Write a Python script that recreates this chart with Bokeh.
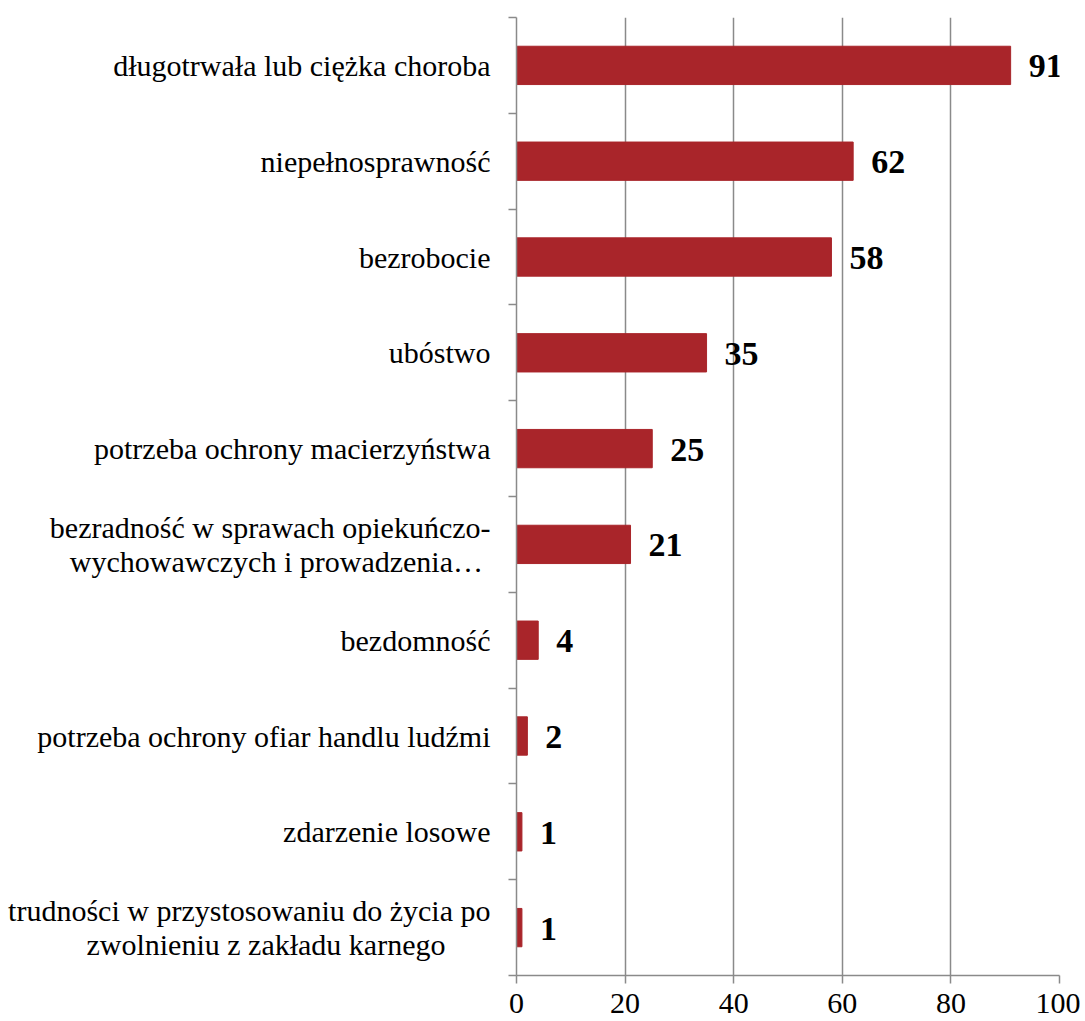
from bokeh.plotting import figure
from bokeh.models import ColumnDataSource, FixedTicker, LabelSet, Range1d
from bokeh.embed import file_html
from bokeh.resources import INLINE

categories = [
    "długotrwała lub ciężka choroba",
    "niepełnosprawność",
    "bezrobocie",
    "ubóstwo",
    "potrzeba ochrony macierzyństwa",
    "bezradność w sprawach opiekuńczo-\nwychowawczych i prowadzenia…",
    "bezdomność",
    "potrzeba ochrony ofiar handlu ludźmi",
    "zdarzenie losowe",
    "trudności w przystosowaniu do życia po\nzwolnieniu z zakładu karnego",
]
values = [91, 62, 58, 35, 25, 21, 4, 2, 1, 1]
x_ticks = [0, 20, 40, 60, 80, 100]

FONT = "Liberation Serif"
GRAY = "#8a8a8a"
BAR = "#A9252A"
NBSP = "\u00a0"

n = len(categories)
ypos = [n - i - 0.5 for i in range(n)]
src = ColumnDataSource(dict(y=ypos, v=values, lab=[str(v) for v in values]))

# tick positions / labels for the category axis (one tick per text line)
LINE_GAP = 0.178  # half line spacing in band units
pad_for_line2 = {5: 1, 9: 6}  # trailing padding so wrapped lines look centred
tick_pos, tick_lab = [], {}
for i, (yc, cat) in enumerate(zip(ypos, categories)):
    lines = cat.split("\n")
    if len(lines) == 1:
        tick_pos.append(yc)
        tick_lab[yc] = cat
    else:
        y1, y2 = yc + LINE_GAP, yc - LINE_GAP
        tick_pos += [y1, y2]
        tick_lab[y1] = lines[0]
        tick_lab[y2] = lines[1] + NBSP * pad_for_line2.get(i, 0)

p = figure(width=1080, height=1020, output_backend="svg", toolbar_location=None,
           x_range=Range1d(0, 100), y_range=Range1d(0, n),
           min_border_left=516, min_border_right=21, min_border_top=17, min_border_bottom=45)
p.outline_line_color = None

p.hbar(y="y", right="v", left=0, height=0.4, source=src, color=BAR)

labels = LabelSet(x="v", y="y", text="lab", source=src, x_offset=18, y_offset=-1,
                  text_font=FONT, text_font_style="bold", text_font_size="34px",
                  text_baseline="middle", text_align="left", text_color="black")
p.add_layout(labels)

# x axis
p.xaxis.ticker = FixedTicker(ticks=x_ticks)
p.xaxis.axis_line_color = GRAY
p.xaxis.axis_line_width = 1.5
p.xaxis.major_tick_line_color = GRAY
p.xaxis.major_tick_line_width = 1.5
p.xaxis.major_tick_out = 8
p.xaxis.major_tick_in = 0
p.xaxis.minor_tick_line_color = None
p.xaxis.major_label_text_font = FONT
p.xaxis.major_label_text_font_size = "30px"
p.xaxis.major_label_text_color = "black"
p.xaxis.major_label_standoff = 10

# y axis
p.yaxis.ticker = FixedTicker(ticks=tick_pos, minor_ticks=list(range(n + 1)))
p.yaxis.major_label_overrides = tick_lab
p.yaxis.axis_line_color = GRAY
p.yaxis.axis_line_width = 1.5
p.yaxis.major_tick_line_color = None
p.yaxis.major_tick_out = 0
p.yaxis.major_tick_in = 0
p.yaxis.minor_tick_line_color = GRAY
p.yaxis.minor_tick_line_width = 1.5
p.yaxis.minor_tick_out = 8
p.yaxis.minor_tick_in = 0
p.yaxis.major_label_text_font = FONT
p.yaxis.major_label_text_font_size = "30px"
p.yaxis.major_label_text_color = "black"
p.yaxis.major_label_standoff = 18

p.xgrid.ticker = FixedTicker(ticks=x_ticks[1:])
p.xgrid.grid_line_color = GRAY
p.xgrid.grid_line_width = 1.5
p.ygrid.grid_line_color = None

open("out.html", "w").write(file_html(p, INLINE))
